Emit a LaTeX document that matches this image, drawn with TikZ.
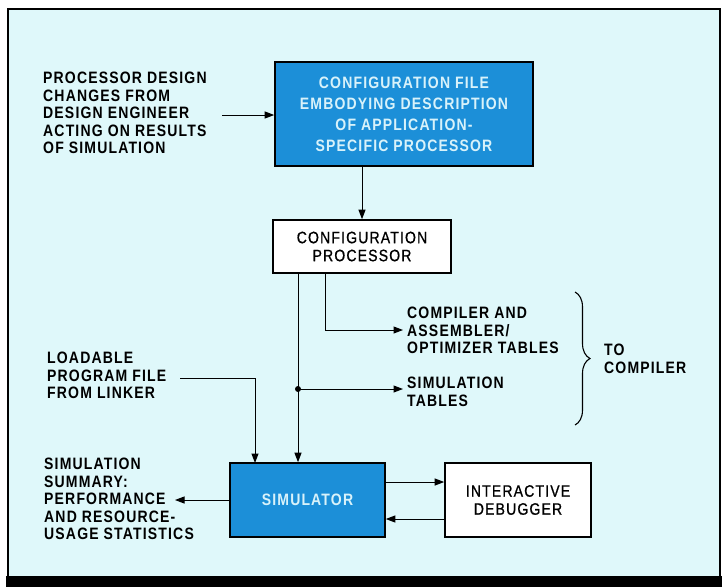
\documentclass[tikz,border=0pt]{standalone}
\usepackage{fontspec}
\setmainfont{Liberation Sans}[FakeStretch=0.85, LetterSpace=7, BoldFont={Liberation Sans Bold}]
\newfontfamily\medfont{Liberation Sans}[FakeStretch=0.85, LetterSpace=7, FakeBold=0.8]
\usetikzlibrary{arrows.meta,decorations.pathreplacing}
\definecolor{panel}{HTML}{DFF8FA}
\definecolor{boxblue}{HTML}{1C8FD8}
\definecolor{boxtext}{HTML}{D8F2FA}
\tikzset{
  every picture/.style={x=1pt,y=-1pt},
  label/.style={align=left,anchor=north west,inner sep=0pt,font=\fontsize{16.5}{17.5}\selectfont\bfseries},
  bluebox/.style={draw=black,line width=1.6pt,fill=boxblue,text=boxtext,align=center,font=\fontsize{16.5}{21}\selectfont\bfseries},
  whitebox/.style={draw=black,line width=1.6pt,fill=white,align=center,font=\fontsize{16.5}{18}\medfont},
  flow/.style={line width=1pt,-{Triangle[length=9.5pt,width=7pt]}},
}
\begin{document}
\begin{tikzpicture}
\useasboundingbox (0,0) rectangle (727,587);
\fill[white] (0,0) rectangle (727,587);
% panel with its frame and heavy bottom rule
\fill[panel] (8,9) rectangle (720,578);
\draw[line width=2.2pt] (8,578) -- (8,9) -- (720,9) -- (720,578);
\fill[black] (6,576) rectangle (722,587);

% boxes
\node[bluebox,minimum width=258pt,minimum height=104pt] (cfgfile) at (404,114)
  {CONFIGURATION FILE\\EMBODYING DESCRIPTION\\OF APPLICATION-\\SPECIFIC PROCESSOR};
\node[whitebox,minimum width=178pt,minimum height=53pt] (cfgproc) at (362,246.5)
  {CONFIGURATION\\PROCESSOR};
\node[bluebox,minimum width=155pt,minimum height=74pt] (sim) at (307.5,500)
  {SIMULATOR};
\node[whitebox,minimum width=146pt,minimum height=74pt] (dbg) at (518,500)
  {INTERACTIVE\\DEBUGGER};

% labels
\node[label] (changes) at (43,72) {PROCESSOR DESIGN\\CHANGES FROM\\DESIGN ENGINEER\\ACTING ON RESULTS\\OF SIMULATION};
\node[label] (comptab) at (407,307) {COMPILER AND\\ASSEMBLER/\\OPTIMIZER TABLES};
\node[label] (simtab) at (407,377) {SIMULATION\\TABLES};
\node[label] (tocomp) at (604,344) {TO\\COMPILER};
\node[label] (loadable) at (47,352) {LOADABLE\\PROGRAM FILE\\FROM LINKER};
\node[label] (summary) at (44,458) {SIMULATION\\SUMMARY:\\PERFORMANCE\\AND RESOURCE-\\USAGE STATISTICS};

% connectors
\coordinate (chg) at (222,115);
\draw[flow] (chg) -- (cfgfile.west |- chg);
\draw[flow] (cfgfile.south -| cfgproc.north) -- (cfgproc.north);
\coordinate (tapA) at (325,273);
\coordinate (tapB) at (298,273);
\coordinate (compin) at (403,330);
\coordinate (simin) at (403,389);
\coordinate (dot) at (298,389);
\draw[flow] (tapA) |- (compin);
\draw[flow] (tapB) -- (tapB |- sim.north);
\fill (dot) circle (3pt);
\draw[flow] (dot) -- (simin);
\coordinate (load) at (180,378);
\draw[flow] (load) -| (255,463);
\draw[flow] (sim.east |- 0,482) -- (dbg.west |- 0,482);
\draw[flow] (dbg.west |- 0,519) -- (sim.east |- 0,519);
\coordinate (sumout) at (175,500);
\draw[flow] (sim.west) -- (sumout);

% brace grouping both table outputs
\draw[line width=1.1pt,decorate,decoration={brace,amplitude=15pt}] (575,292) -- (575,425);
\end{tikzpicture}
\end{document}
